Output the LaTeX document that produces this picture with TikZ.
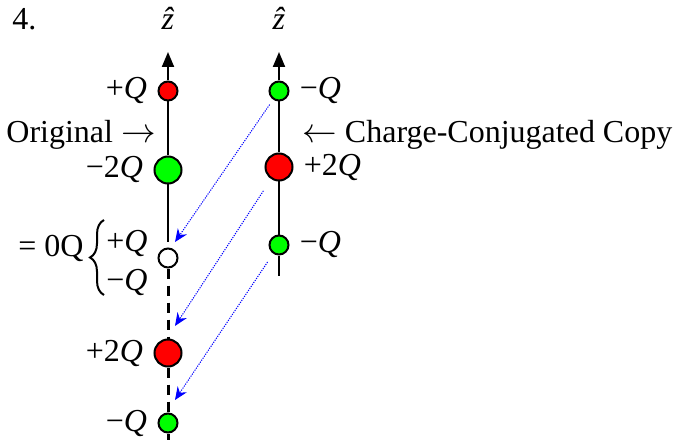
\documentclass[tikz,border=0pt]{standalone}
\usepackage{fontspec}
\setmainfont{Liberation Serif}
\usetikzlibrary{arrows.meta,positioning,decorations.pathreplacing}
\definecolor{posred}{RGB}{255,0,0}
\definecolor{neggreen}{RGB}{0,255,0}
\definecolor{copyblue}{RGB}{0,0,255}

\begin{document}
\begin{tikzpicture}[x=0.5pt, y=0.5pt, font=\fontsize{16}{19}\selectfont,
  charge/.style={circle, draw, line width=1pt, inner sep=0pt},
  small/.style={charge, minimum size=9.5pt},
  big/.style={charge, minimum size=13.5pt},
  poschg/.style={fill=posred}, negchg/.style={fill=neggreen},
  axisline/.style={line width=1pt},
  ghostline/.style={line width=1.5pt, dash pattern=on 5pt off 3.5pt},
  zarrow/.style={-{Triangle[length=7.5pt,width=6pt]}},
  transfer/.style={copyblue, line width=0.5pt, dash pattern=on 0.6pt off 0.6pt,
    -{Stealth[length=6.5pt,width=5.5pt]}, shorten <=3pt},
  lbl/.style={inner sep=1pt}]
  \useasboundingbox (0,0) rectangle (674,445);

  % original (left) and its charge-conjugated copy (right)
  \node[small, poschg] (lp1) at (168,354) {};
  \node[big, negchg]   (ln2) at (168,275) {};
  \node[small, fill=white] (l0) at (168,187) {};
  \node[big, poschg]   (lp2) at (168,92) {};
  \node[small, negchg] (ln3) at (168,22) {};
  \node[small, negchg] (rn1) at (279,354) {};
  \node[big, poschg]   (rp2) at (279,278) {};
  \node[small, negchg] (rn3) at (279,200) {};

  \coordinate (lzt) at (168,393);
  \coordinate (rzt) at (279,393);
  \coordinate (lstop) at (168,203);
  \coordinate (lend) at (168,5);
  \coordinate (rend) at (279,169);

  \draw[axisline, zarrow] (lp1) -- (lzt);
  \draw[axisline] (lp1) -- (ln2);
  \draw[axisline] (ln2) -- (lstop);
  \draw[ghostline] (l0) -- (lp2);
  \draw[ghostline] (lp2) -- (ln3);
  \draw[ghostline] (ln3) -- (lend);
  \draw[axisline, zarrow] (rn1) -- (rzt);
  \draw[axisline] (rn1) -- (rp2);
  \draw[axisline] (rp2) -- (rn3);
  \draw[axisline] (rn3) -- (rend);

  % shifted copies
  \coordinate (t1) at (175,203);
  \coordinate (t2) at (175,119);
  \coordinate (t3) at (175,45);
  \draw[transfer] (rn1) -- (t1);
  \draw[transfer, shorten <=7pt] (rp2) -- (t2);
  \draw[transfer, shorten <=5pt] (rn3) -- (t3);

  % labels
  \node[lbl, anchor=base west] (num) at (10,415) {4.};
  \node[lbl, anchor=base] (lz) at (168,415) {\textit{\^{z}}};
  \node[lbl, anchor=base] (rz) at (279,415) {\textit{\^{z}}};
  \node[lbl, left=4pt of lp1] (lp1t) {+\textit{Q}};
  \node[lbl, left=4pt of ln2] (ln2t) {−2\textit{Q}};
  \node[lbl, left=4pt of lp2] (lp2t) {+2\textit{Q}};
  \node[lbl, left=4pt of ln3] (ln3t) {−\textit{Q}};
  \node[lbl, right=4pt of rn1] (rn1t) {−\textit{Q}};
  \node[lbl, right=4pt of rp2] (rp2t) {+2\textit{Q}};
  \node[lbl, right=4pt of rn3] (rn3t) {−\textit{Q}};
  \node[lbl, anchor=east] (orig) at (158,310) {Original $\rightarrow$};
  \node[lbl, anchor=west] (conj) at (300,310) {$\leftarrow$ Charge-Conjugated Copy};

  \node[lbl, anchor=east] (pq) at (150,202) {+\textit{Q}};
  \node[lbl, anchor=east] (mq) at (150,163) {−\textit{Q}};
  \coordinate (bb) at (104,150);
  \coordinate (bt) at (104,225);
  \draw[line width=1pt, decorate, decoration={brace, amplitude=7pt}] (bb) -- (bt);
  \node[lbl, anchor=east] (zero) at (86,197) {= 0Q};
\end{tikzpicture}
\end{document}
